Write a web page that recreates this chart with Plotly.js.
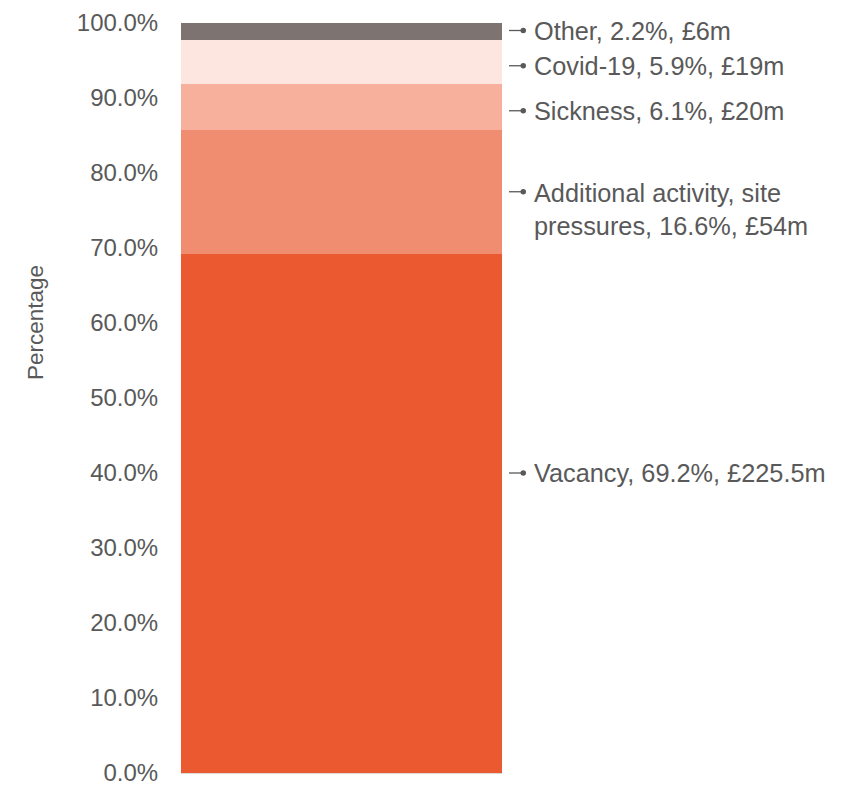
<!DOCTYPE html>
<html>
<head>
<meta charset="utf-8">
<script src="https://cdn.plot.ly/plotly-3.0.1.min.js"></script>
<style>html,body{margin:0;padding:0;background:#fff;}#chart{width:843px;height:785px;}</style>
</head>
<body>
<div id="chart"></div>
<script>
// Data
const categories = ['Vacancy', 'Additional activity, site pressures', 'Sickness', 'Covid-19', 'Other'];
const percentValues = [69.2, 16.6, 6.1, 5.9, 2.2];
const spendLabels = ['£225.5m', '£54m', '£20m', '£19m', '£6m'];
const tickValues = [0, 10, 20, 30, 40, 50, 60, 70, 80, 90, 100];
const tickLabels = ['0.0%', '10.0%', '20.0%', '30.0%', '40.0%', '50.0%', '60.0%', '70.0%', '80.0%', '90.0%', '100.0%'];

// Styling / layout constants
const colors = ['#EB5931', '#F08C6F', '#F6B09B', '#FDE5E0', '#7D7370'];
const labelAnchorY = [40, 77.5, 88.3, 94.3, 99.0];
const textColor = '#595959';
const fontFamily = 'Liberation Sans, Arial, sans-serif';

const traces = categories.map((c, i) => ({
  type: 'bar',
  x: [0],
  y: [percentValues[i]],
  width: 1,
  name: c,
  marker: {color: colors[i], line: {width: 0}},
  hoverinfo: 'name+y'
}));

const shapes = [];
const annotations = [];
categories.forEach((c, i) => {
  const yv = labelAnchorY[i];
  shapes.push({
    type: 'line', xref: 'paper', xsizemode: 'pixel', xanchor: 1,
    x0: 7, x1: 21, yref: 'y', y0: yv, y1: yv,
    line: {color: textColor, width: 1.3}
  });
  shapes.push({
    type: 'circle', xref: 'paper', xsizemode: 'pixel', xanchor: 1,
    x0: 18.5, x1: 24, yref: 'y', ysizemode: 'pixel', yanchor: yv,
    y0: -2.7, y1: 2.7,
    fillcolor: textColor, line: {width: 0}
  });
  let name = c.replace('site pressures', 'site<br>pressures');
  const txt = name + ', ' + percentValues[i].toFixed(1) + '%, ' + spendLabels[i];
  const multi = name.indexOf('<br>') >= 0;
  annotations.push({
    xref: 'paper', x: 1, xshift: 30, xanchor: 'left',
    yref: 'y', y: yv, yanchor: multi ? 'top' : 'middle', yshift: multi ? 15 : 0,
    text: txt, showarrow: false, align: 'left',
    font: {family: fontFamily, size: 25.3, color: textColor}
  });
});

annotations.push({
  xref: 'paper', x: 0, xshift: -146, xanchor: 'center',
  yref: 'paper', y: 0.6, yanchor: 'middle',
  text: 'Percentage', textangle: -90, showarrow: false,
  font: {family: fontFamily, size: 22.5, color: textColor}
});

const layout = {
  width: 843, height: 785,
  margin: {l: 181, r: 341, t: 23, b: 12, pad: 0},
  paper_bgcolor: '#ffffff', plot_bgcolor: '#ffffff',
  barmode: 'stack',
  showlegend: false,
  font: {family: fontFamily, color: textColor},
  xaxis: {
    range: [-0.5, 0.5], showticklabels: false, ticks: '',
    showgrid: false, zeroline: false, fixedrange: true,
    showline: true, linecolor: '#D9D9D9', linewidth: 1
  },
  yaxis: {
    range: [0, 100], tickmode: 'array', tickvals: tickValues, ticktext: tickLabels,
    ticks: 'outside', ticklen: 17, tickcolor: 'rgba(0,0,0,0)',
    ticklabeloverflow: 'allow',
    showgrid: false, zeroline: false, showline: false,
    tickfont: {family: fontFamily, size: 24, color: textColor}
  },
  shapes: shapes,
  annotations: annotations
};

Plotly.newPlot('chart', traces, layout, {displayModeBar: false, staticPlot: true});
</script>
</body>
</html>
